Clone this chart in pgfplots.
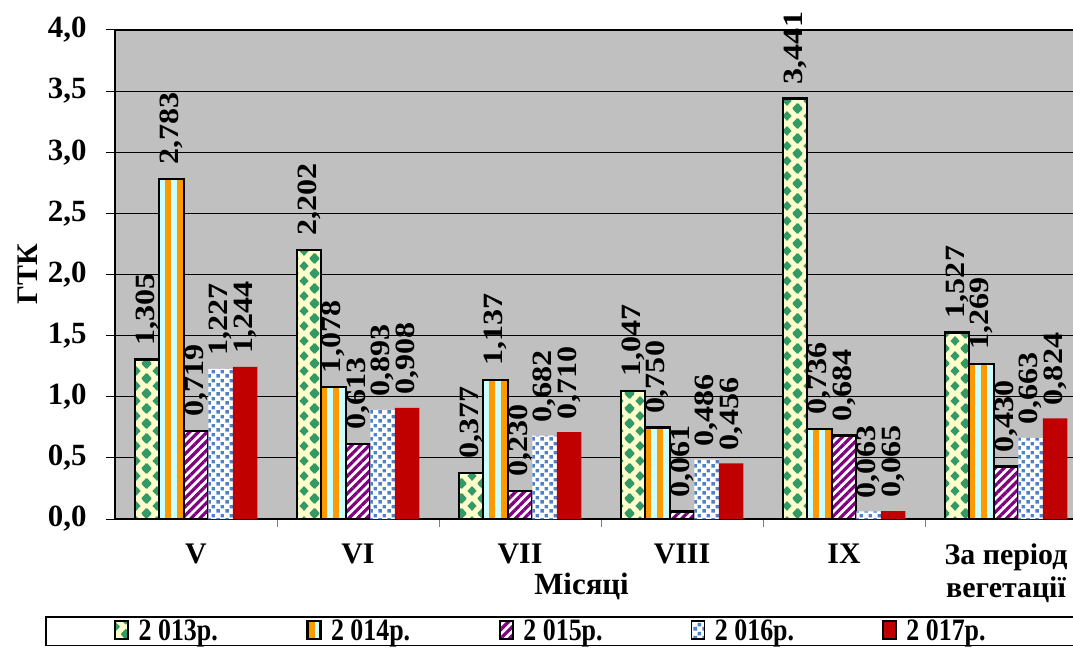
\documentclass[border=0pt]{standalone}
\usepackage{pgfplots}
\pgfplotsset{compat=1.18}
\usepackage{fontspec}
\setmainfont{Liberation Serif}
\usetikzlibrary{patterns.meta}

\definecolor{bggray}{HTML}{C0C0C0}
\definecolor{dmdbg}{HTML}{FFFFCC}
\definecolor{dmdgreen}{HTML}{339966}
\definecolor{stcyan}{HTML}{CCFFFF}
\definecolor{storange}{HTML}{FF9900}
\definecolor{stpurple}{HTML}{800080}
\definecolor{sqblue}{HTML}{4F81C7}
\definecolor{barred}{HTML}{C00000}

\newcommand\dmd[2]{%
  \pgfpathmoveto{\pgfpoint{#1bp-4.8bp}{#2bp}}%
  \pgfpathlineto{\pgfpoint{#1bp}{#2bp+5.2bp}}%
  \pgfpathlineto{\pgfpoint{#1bp+4.8bp}{#2bp}}%
  \pgfpathlineto{\pgfpoint{#1bp}{#2bp-5.2bp}}%
  \pgfpathclose}

\pgfdeclarepattern{
  name=ydiamonds,
  type=uncolored,
  bottom left={\pgfpoint{0bp}{0bp}},
  top right={\pgfpoint{21bp}{15bp}},
  tile size={\pgfpoint{21bp}{15bp}},
  code={
    \dmd{10.5}{7.5}\dmd{0}{0}\dmd{21}{0}\dmd{0}{15}\dmd{21}{15}
    \pgfusepath{fill}
  }
}

\pgfdeclarepattern{
  name=bsquares,
  type=uncolored,
  bottom left={\pgfpoint{0bp}{0bp}},
  top right={\pgfpoint{9bp}{9bp}},
  tile size={\pgfpoint{9bp}{9bp}},
  code={
    \pgfpathrectangle{\pgfpoint{0.5bp}{0.5bp}}{\pgfpoint{3.8bp}{3.8bp}}
    \pgfpathrectangle{\pgfpoint{5bp}{5bp}}{\pgfpoint{3.8bp}{3.8bp}}
    \pgfusepath{fill}
  }
}

\pgfplotstableread{
x y13 y14 y15 y16 y17
0 1.305 2.783 0.719 1.227 1.244
1 2.202 1.078 0.613 0.893 0.908
2 0.377 1.137 0.230 0.682 0.710
3 1.047 0.750 0.061 0.486 0.456
4 3.441 0.736 0.684 0.063 0.065
5 1.527 1.269 0.430 0.663 0.824
}\gtkdata

\newcommand\legtxt[1]{\makebox[166bp][l]{\scalebox{1}[1.2]{#1}}}

\begin{document}
\begin{tikzpicture}
\begin{axis}[
  at={(115bp,129bp)}, anchor=south west,
  scale only axis, width=972bp, height=489bp,
  xmin=-0.5, xmax=5.5, ymin=0, ymax=4,
  ybar, bar width=24.5bp,
  xtick={0,1,2,3,4,5},
  xticklabels={V,VI,VII,VIII,IX,{За період\\вегетації}},
  minor xtick={0.5,1.5,2.5,3.5,4.5},
  ytick={0,0.5,1,1.5,2,2.5,3,3.5,4},
  tick pos=left, tick align=outside,
  major tick length=9bp, minor tick length=8bp,
  major x tick style={draw=none},
  minor x tick style={draw=gray, line width=1bp},
  y tick style={black, line width=1bp},
  ymajorgrids, major grid style={black, line width=0.8bp},
  axis background/.style={fill=bggray},
  axis line style={black, line width=1.2bp},
  clip=false,
  /pgf/number format/assume math mode=true,
  xticklabel style={font=\bfseries\fontsize{30}{33}\selectfont, align=center, yshift=-12bp},
  yticklabel style={font=\bfseries\fontsize{31}{32}\selectfont, xshift=-16bp,
    /pgf/number format/fixed, /pgf/number format/fixed zerofill,
    /pgf/number format/precision=1, /pgf/number format/use comma},
  ylabel={ГТК},
  ylabel style={font=\bfseries\fontsize{30}{32}\selectfont, at={(axis description cs:-0.0895,0.5)}, anchor=center},
  xlabel={Місяці},
  xlabel style={font=\bfseries\fontsize{31}{32}\selectfont, at={(axis description cs:0.48,0)}, anchor=north, yshift=-51bp},
  nodes near coords={\scalebox{1.15}[1]{\pgfmathprintnumber[fixed,fixed zerofill,precision=3,use comma,assume math mode=true]{\pgfplotspointmeta}}},
  every node near coord/.append style={rotate=90, anchor=west, text=black,
    font=\bfseries\fontsize{28}{30}\selectfont, inner xsep=13bp, inner ysep=0bp},
  legend columns=5,
  legend style={at={(axis description cs:-0.072,-0.1984)}, anchor=north west,
    draw=black, line width=1.5bp, fill=white,
    font=\bfseries\fontsize{26}{28}\selectfont,
    inner xsep=68bp, inner ysep=1.8bp, nodes={inner sep=1.5bp},
    /tikz/every odd column/.append style={column sep=8bp}},
  legend image code/.code={\draw[#1] (0bp,-8bp) rectangle (13bp,10bp);},
]
\addplot[bar shift=-49bp, draw=black, line width=2.4bp, preaction={fill=dmdbg},
  pattern=ydiamonds, pattern color=dmdgreen] table[x=x,y=y13] {\gtkdata};
\addlegendentry{\legtxt{2 013р.}}
\addplot[bar shift=-24.5bp, draw=black, line width=2.4bp, preaction={fill=stcyan},
  pattern={Lines[angle=90,distance=12bp,line width=6bp]}, pattern color=storange] table[x=x,y=y14] {\gtkdata};
\addlegendentry{\legtxt{2 014р.}}
\addplot[bar shift=0bp, draw=black, line width=2.4bp, preaction={fill=white},
  pattern={Lines[angle=45,distance=6.2bp,line width=3.2bp]}, pattern color=stpurple] table[x=x,y=y15] {\gtkdata};
\addlegendentry{\legtxt{2 015р.}}
\addplot[bar shift=24.5bp, draw=none, preaction={fill=white},
  pattern=bsquares, pattern color=sqblue] table[x=x,y=y16] {\gtkdata};
\addlegendentry{\legtxt{2 016р.}}
\addplot[bar shift=49bp, draw=none, fill=barred] table[x=x,y=y17] {\gtkdata};
\addlegendentry{\legtxt{2 017р.}}
\end{axis}
\pgfresetboundingbox
\path[use as bounding box] (0,0) rectangle (1073bp,648bp);
\end{tikzpicture}
\end{document}
